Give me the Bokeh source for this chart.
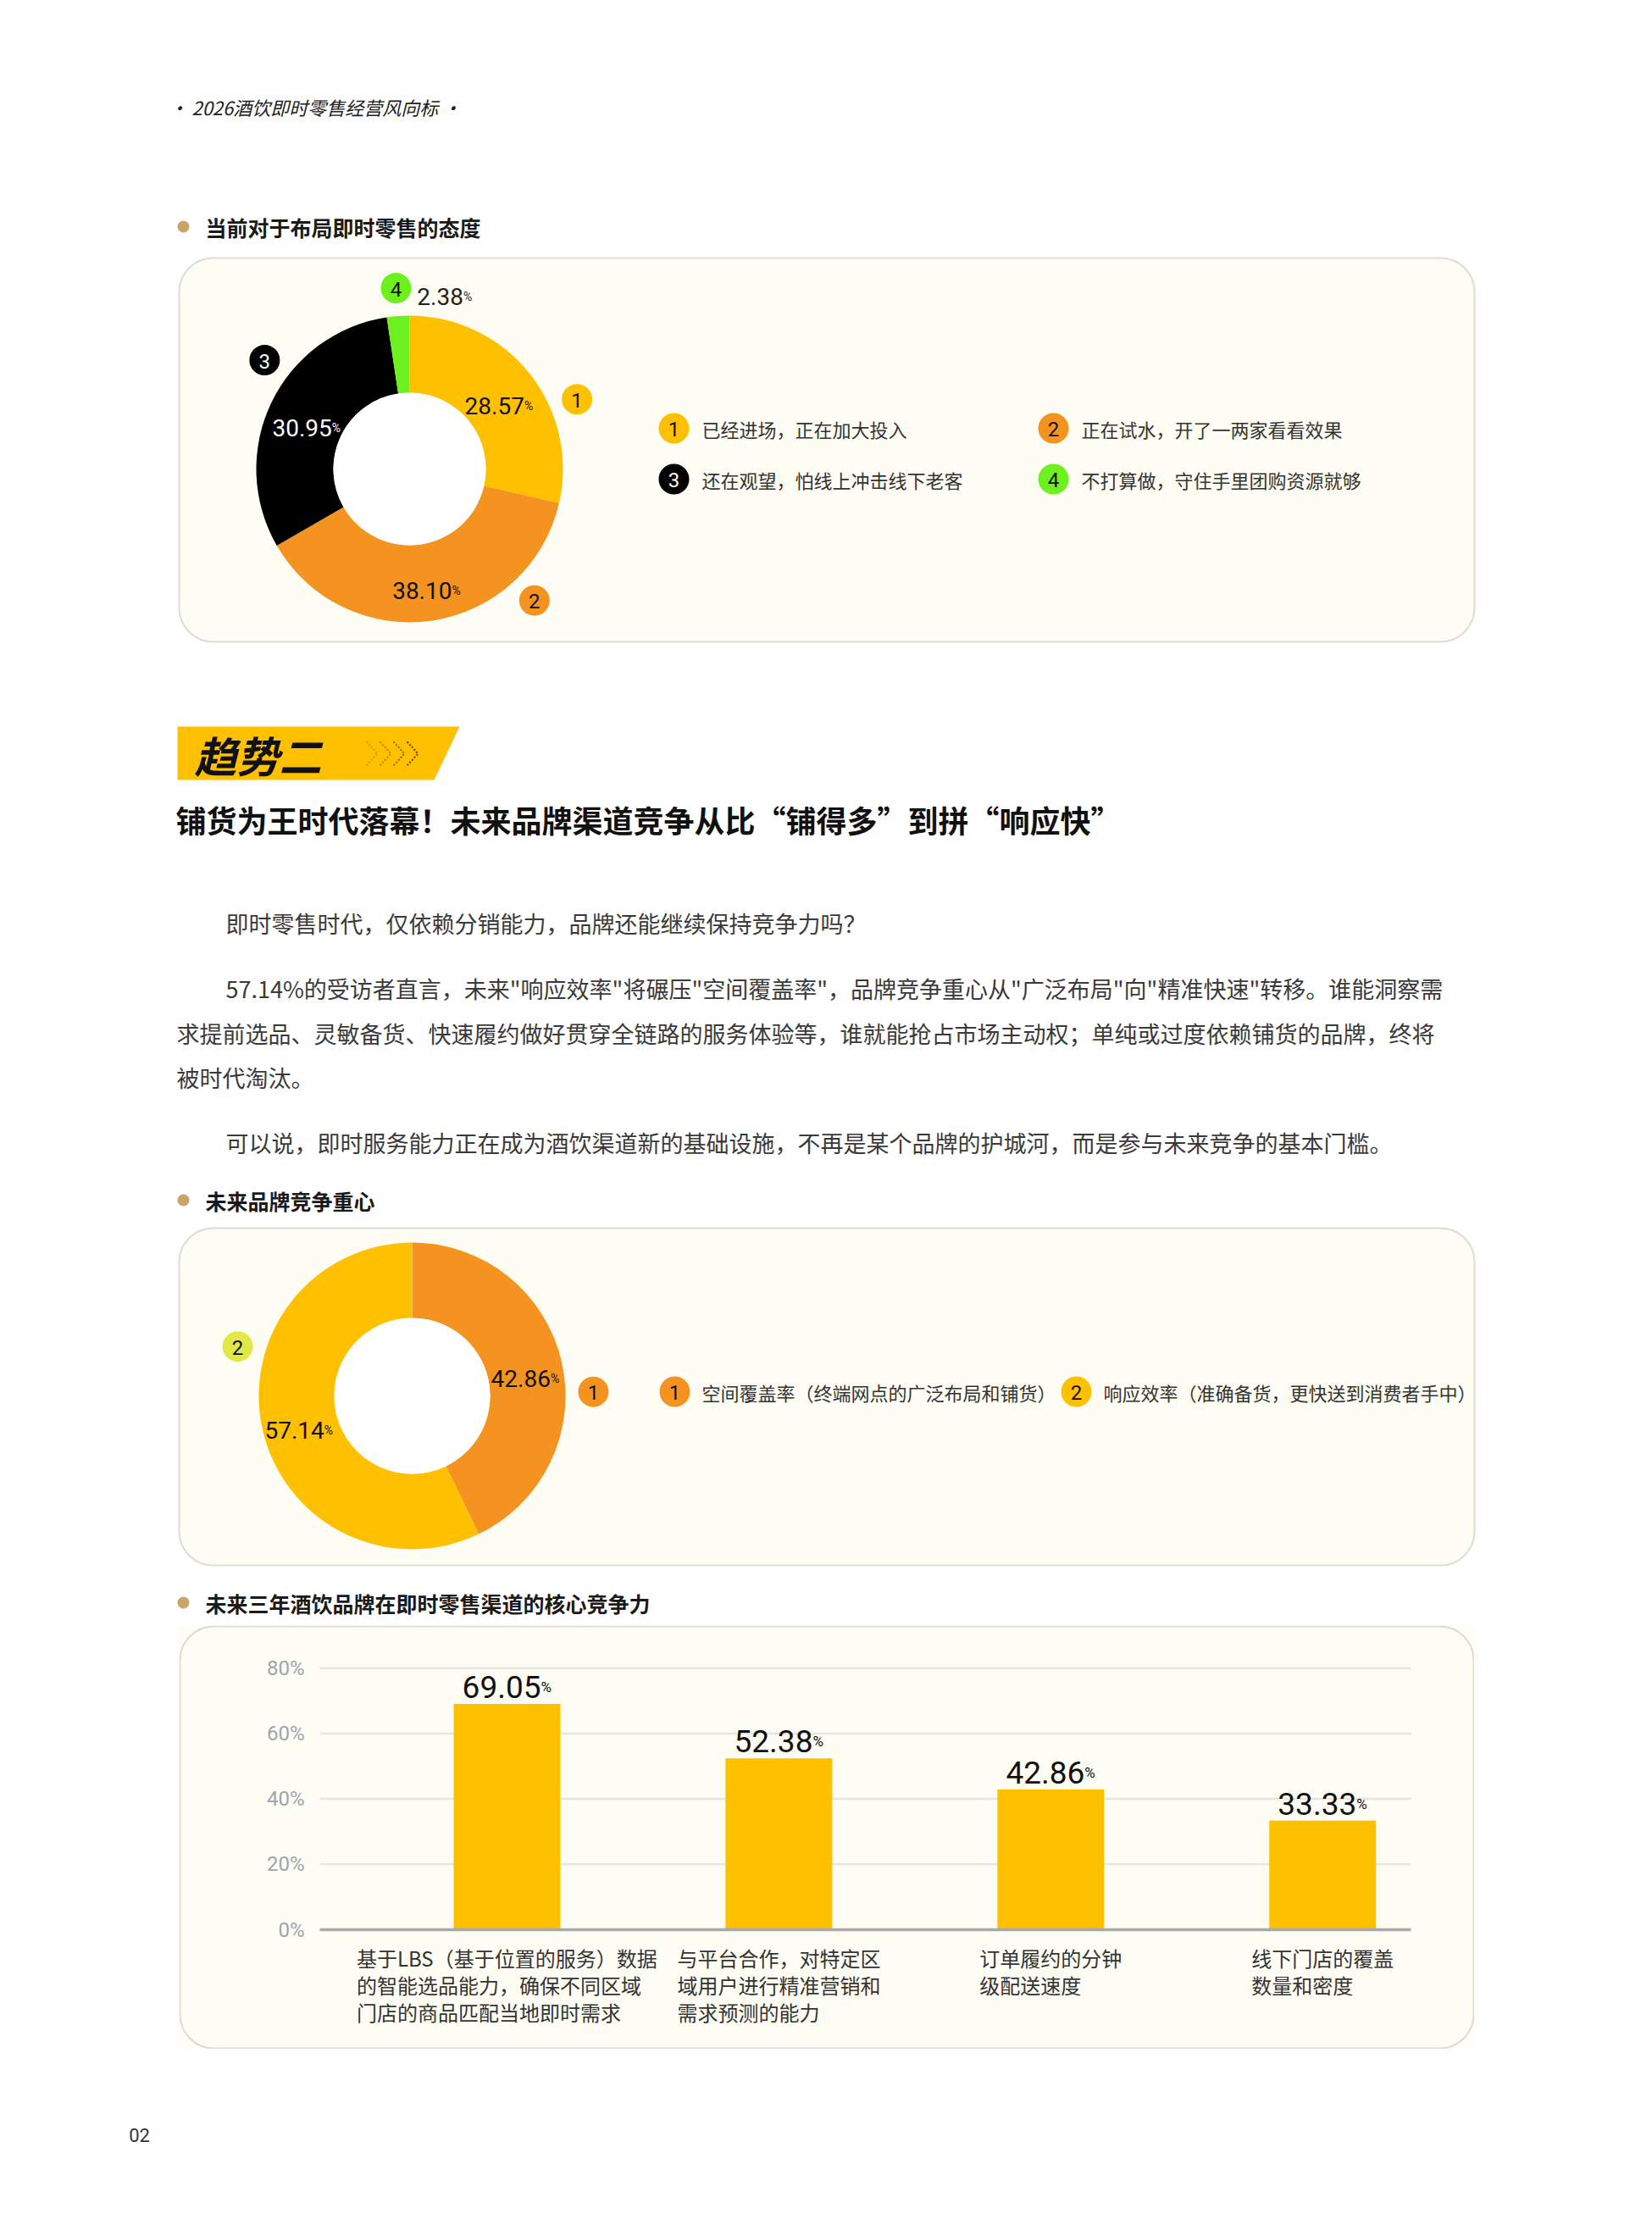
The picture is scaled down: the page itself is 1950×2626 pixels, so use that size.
import numpy as np
from bokeh.plotting import figure
from bokeh.models import (Range1d, BoxAnnotation, FixedTicker, PrintfTickFormatter,
                          ColumnDataSource, Spacer)
from bokeh.layouts import column, row
from bokeh.core.properties import value
from bokeh.embed import file_html
from bokeh.resources import INLINE

# ---------------- data ----------------
header_text = "• 2026酒饮即时零售经营风向标 •"
section_titles = ["当前对于布局即时零售的态度", "未来品牌竞争重心", "未来三年酒饮品牌在即时零售渠道的核心竞争力"]

attitude_ids = ["1", "2", "3", "4"]
attitude_labels = ["已经进场，正在加大投入", "正在试水，开了一两家看看效果",
                   "还在观望，怕线上冲击线下老客", "不打算做，守住手里团购资源就够"]
attitude_values = [28.57, 38.10, 30.95, 2.38]

focus_ids = ["1", "2"]
focus_labels = ["空间覆盖率（终端网点的广泛布局和铺货）", "响应效率（准确备货，更快送到消费者手中）"]
focus_values = [42.86, 57.14]

trend_tag = "趋势二"
trend_heading = "铺货为王时代落幕！未来品牌渠道竞争从比“铺得多”到拼“响应快”"
para_lines = [
    "即时零售时代，仅依赖分销能力，品牌还能继续保持竞争力吗？",
    "57.14%的受访者直言，未来\"响应效率\"将碾压\"空间覆盖率\"，品牌竞争重心从\"广泛布局\"向\"精准快速\"转移。谁能洞察需",
    "求提前选品、灵敏备货、快速履约做好贯穿全链路的服务体验等，谁就能抢占市场主动权；单纯或过度依赖铺货的品牌，终将",
    "被时代淘汰。",
    "可以说，即时服务能力正在成为酒饮渠道新的基础设施，不再是某个品牌的护城河，而是参与未来竞争的基本门槛。",
]

ability_labels = [
    "基于LBS（基于位置的服务）数据\n的智能选品能力，确保不同区域\n门店的商品匹配当地即时需求",
    "与平台合作，对特定区\n域用户进行精准营销和\n需求预测的能力",
    "订单履约的分钟\n级配送速度",
    "线下门店的覆盖\n数量和密度",
]
ability_values = [69.05, 52.38, 42.86, 33.33]
y_ticks = [0, 20, 40, 60, 80]
page_number = "02"

# ---------------- style / layout ----------------
CJK = "Noto Sans CJK SC"
NUM = "Roboto"
YELLOW = "#FFC000"
ORANGE = "#F4931F"
BLACK = "#000000"
GREEN = "#6CF01E"
LIME = "#E3E84A"
PANEL_FILL = "#FEFDF3"
PANEL_LINE = "#8E8E8E"
DOT = "#C8A66A"
TEXT = "#333333"

M = 0
PAGE_W = 1940
TOP_Y0, TOP_Y1 = 0, 1918
BAR_Y0, BAR_Y1 = 1918, 2418
BOT_Y0, BOT_Y1 = 2418, 2600
PANEL_L, PANEL_R = 211, 1740
RADIUS = 40


def page_fig(y0, y1):
    p = figure(width=PAGE_W, height=y1 - y0, x_range=Range1d(M, M + PAGE_W), y_range=Range1d(-y1, -y0),
               output_backend="svg", toolbar_location=None, x_axis_location=None, y_axis_location=None,
               min_border=0, outline_line_color=None, background_fill_color="white",
               border_fill_color="white")
    p.grid.visible = False
    return p


def label(p, x, y, s, size, color=TEXT, font=CJK, style="normal", align="left", baseline="middle", **kw):
    p.text(x=[x], y=[-y], text=[s], text_font=value(font), text_font_size=f"{size}px",
           text_color=color, text_font_style=style, text_align=align, text_baseline=baseline, **kw)


def panel(p, top, bottom):
    p.add_layout(BoxAnnotation(left=PANEL_L, right=PANEL_R, top=-top, bottom=-bottom,
                               border_radius=RADIUS, fill_color=PANEL_FILL, fill_alpha=1.0,
                               line_color=PANEL_LINE, line_width=2, level="underlay"))


def section(p, y, s):
    p.circle(x=[216], y=[-y], radius=7, fill_color=DOT, line_color=None)
    label(p, 242, y, s, 25, color="#1a1a1a", style="bold")


def num_w(s, F):
    return F * sum(0.562 if ch.isdigit() else 0.26 for ch in s)


PCT_W = 0.75


def pct_labels(p, xs, ys, vals, F, f, colors, align="center", yoff=None):
    nums = [f"{v:.2f}" for v in vals]
    tot = [num_w(n, F) + PCT_W * f for n in nums]
    if align == "center":
        off = [num_w(n, F) - t / 2 for n, t in zip(nums, tot)]
    else:
        off = [num_w(n, F) for n in nums]
    src = ColumnDataSource(dict(x=list(xs), y=list(ys), num=nums, pct=["%"] * len(nums), off=off,
                                color=colors))
    yo = 0.36 * F if yoff is None else yoff
    p.text(x="x", y="y", text="num", source=src, x_offset="off", y_offset=yo, text_align="right",
           text_baseline="alphabetic", text_font=value(NUM), text_font_size=f"{F}px", text_color="color")
    p.text(x="x", y="y", text="pct", source=src, x_offset="off", y_offset=yo, text_align="left",
           text_baseline="alphabetic", text_font=value(NUM), text_font_size=f"{f}px", text_color="color")


def donut(p, cx, cy, r_in, r_out, vals, colors):
    cum = np.concatenate([[0.0], np.cumsum(vals)]) / float(sum(vals))
    start = np.pi / 2 - 2 * np.pi * cum[:-1]
    end = np.pi / 2 - 2 * np.pi * cum[1:]
    src = ColumnDataSource(dict(start=start, end=end, color=colors))
    p.annular_wedge(x=cx, y=-cy, inner_radius=r_in, outer_radius=r_out, start_angle="start",
                    end_angle="end", direction="clock", fill_color="color", line_color=None, source=src)
    p.circle(x=[cx], y=[-cy], radius=r_in, fill_color="white", line_color=None)
    return (start + end) / 2


def badges(p, xs, ys, nums, fills, tcs):
    src = ColumnDataSource(dict(x=list(xs), y=[-y for y in ys], n=nums, fill=fills, tc=tcs))
    p.circle(x="x", y="y", radius=18, fill_color="fill", line_color=None, source=src)
    p.text(x="x", y="y", text="n", text_color="tc", text_align="center", text_baseline="middle",
           text_font=value(NUM), text_font_size="24px", source=src, y_offset=1)


def ring_badges(cx, cy, r, angles_deg):
    a = np.radians(angles_deg)
    return list(cx + r * np.sin(a)), list(cy - r * np.cos(a))


# ================= top part =================
top = page_fig(TOP_Y0, TOP_Y1)

label(top, 199, 125, header_text, 22, color="#222222", style="italic")

# --- section 1 ---
section(top, 267, section_titles[0])
panel(top, 304, 757)
c1x, c1y = 483, 553
d1_colors = [YELLOW, ORANGE, BLACK, GREEN]
mid1 = donut(top, c1x, c1y, 90, 181, attitude_values, d1_colors)
LR = 135
inside = slice(0, 3)
pct_labels(top, c1x + LR * np.cos(mid1[inside]), -c1y + LR * np.sin(mid1[inside]),
           attitude_values[inside], 28, 14, ["#111111", "#111111", "#ffffff"])
bx1, by1 = ring_badges(c1x, c1y, 214, [67.4, 136.5, 306.9, 355.7])
badges(top, bx1, by1, attitude_ids, d1_colors, ["#111111", "#111111", "#ffffff", "#111111"])
pct_labels(top, [bx1[3] + 25], [-by1[3]], attitude_values[3:], 28, 14, ["#222222"], align="left")

leg1_x = [795, 1243, 795, 1243]
leg1_y = [505, 505, 565, 565]
badges(top, leg1_x, leg1_y, attitude_ids, d1_colors, ["#111111", "#111111", "#ffffff", "#111111"])
for lx, ly, s in zip(leg1_x, leg1_y, attitude_labels):
    label(top, lx + 33, ly, s, 22, color=TEXT)

# --- trend banner ---
top.patch(x=[209, 542, 512, 209], y=[-857, -857, -920, -920], fill_color=YELLOW, line_color=None)
label(top, 229, 889, trend_tag, 50, color="#111111", style="bold italic")
for k, a in enumerate([0.25, 0.4, 0.6, 0.85]):
    x0 = 432 + 16 * k
    top.line(x=[x0, x0 + 13, x0], y=[-875, -889, -903], line_color="#4a3600", line_alpha=a,
             line_width=2.2, line_dash="2 2")
label(top, 207, 966, trend_heading, 36, color="#111111", style="bold")

para_xy = [(266, 1089), (266, 1166), (208, 1219), (208, 1271), (266, 1348)]
for (px, py), s in zip(para_xy, para_lines):
    label(top, px, py, s, 27, color="#3a3a3a")

# --- section 2 ---
section(top, 1416, section_titles[1])
panel(top, 1449, 1847)
c2x, c2y = 486, 1647
d2_colors = [ORANGE, YELLOW]
mid2 = donut(top, c2x, c2y, 92, 181, focus_values, d2_colors)
pct_labels(top, c2x + 137 * np.cos(mid2), -c2y + 137 * np.sin(mid2), focus_values, 28, 14,
           ["#111111", "#111111"])
bx2, by2 = ring_badges(c2x, c2y, 214, [88.7, 285.8])
badges(top, bx2, by2, focus_ids, [ORANGE, LIME], ["#111111", "#111111"])
leg2_x = [796, 1270]
badges(top, leg2_x, [1642, 1642], focus_ids, [ORANGE, YELLOW], ["#111111", "#111111"])
for lx, s in zip(leg2_x, focus_labels):
    label(top, lx + 32, 1642, s, 22, color=TEXT)

# --- section 3 title ---
section(top, 1891, section_titles[2])

# ================= bar chart =================
ZERO_PY = 2277
PX_PER_PCT = 3.86
SLOT_PX = 320.9
FIRST_PX = 598.0
BAR_W_PX = 126
GRID_L, GRID_R = 377, 1665


def xd(px):
    return (px - FIRST_PX) / SLOT_PX


def yd(py):
    return (ZERO_PY - py) / PX_PER_PCT


bar = figure(width=PANEL_R - PANEL_L, height=BAR_Y1 - BAR_Y0,
             x_range=Range1d(xd(PANEL_L), xd(PANEL_R)), y_range=Range1d(yd(BAR_Y1), yd(BAR_Y0)),
             min_border=0, x_axis_location=None, y_axis_location="left", output_backend="svg",
             toolbar_location=None, background_fill_color=PANEL_FILL, border_fill_color=PANEL_FILL,
             outline_line_color=None)
ticker = FixedTicker(ticks=y_ticks)
ax = bar.yaxis[0]
ax.ticker = ticker
ax.fixed_location = xd(GRID_L)
ax.formatter = PrintfTickFormatter(format="%d%%")
ax.axis_line_color = None
ax.major_tick_line_color = None
ax.minor_tick_line_color = None
ax.major_tick_out = 0
ax.major_tick_in = 0
ax.major_label_text_font = "Roboto"
ax.major_label_text_font_size = "24px"
ax.major_label_text_color = "#9BA6AE"
ax.major_label_standoff = 18
bar.grid.visible = False

# horizontal grid lines at the tick values
grid_ticks = [t for t in y_ticks if t != 0]
bar.segment(x0=xd(GRID_L), x1=xd(GRID_R), y0=grid_ticks, y1=grid_ticks, line_color="#E6E6E2",
            line_width=2.5)

idx = list(range(len(ability_values)))
bar.vbar(x=idx, top=ability_values, bottom=0, width=BAR_W_PX / SLOT_PX, fill_color=YELLOW,
         line_color=None)
bar.segment(x0=xd(GRID_L), x1=xd(GRID_R), y0=[0], y1=[0], line_color="#A9A9A9", line_width=3.5)
pct_labels(bar, idx, ability_values, ability_values, 37, 17, ["#111111"] * 4, yoff=-20)


def est_w(s, F):
    return max(sum(1.0 if ord(c) > 0x2000 else 0.6 for c in ln) for ln in s.split("\n")) * F


CAT_F = 24
cat_src = ColumnDataSource(dict(x=idx, y=[0] * 4, t=ability_labels,
                                off=[-est_w(s, CAT_F) / 2 for s in ability_labels]))
bar.text(x="x", y="y", text="t", source=cat_src, x_offset="off", y_offset=15, text_align="left",
         text_baseline="top", text_font=value(CJK), text_font_size=f"{CAT_F}px", text_color=TEXT,
         text_line_height=0.92)

# rounded panel look: white mask outside the rounded corners + grey outline
bar.add_layout(BoxAnnotation(left=xd(PANEL_L - 30), right=xd(PANEL_R + 30), top=yd(BAR_Y0 - 30),
                             bottom=yd(BAR_Y1 + 30), border_radius=RADIUS + 30, fill_color=None,
                             line_color="white", line_width=60, level="overlay"))
bar.add_layout(BoxAnnotation(left=xd(PANEL_L + 1), right=xd(PANEL_R - 1), top=yd(BAR_Y0 + 1),
                             bottom=yd(BAR_Y1 - 1), border_radius=RADIUS, fill_color=None,
                             line_color=PANEL_LINE, line_width=2, level="overlay"))

# ================= bottom =================
bot = page_fig(BOT_Y0, BOT_Y1)
label(bot, 164, 2519, page_number, 22, color=TEXT, font=NUM, align="center")

layout = column(top, row(Spacer(width=PANEL_L - M, height=BAR_Y1 - BAR_Y0), bar), bot)
open("out.html", "w").write(file_html(layout, INLINE))
